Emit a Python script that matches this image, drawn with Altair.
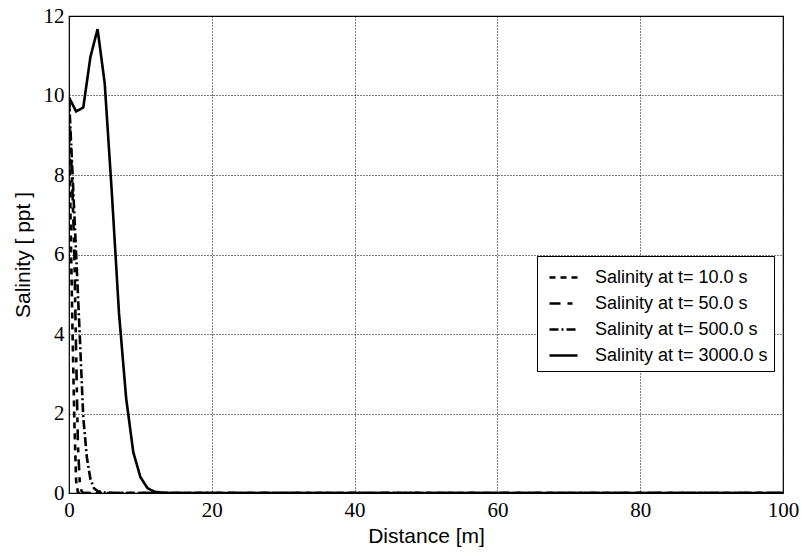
import altair as alt
import pandas as pd

series_names = [
    "Salinity at t= 10.0 s",
    "Salinity at t= 50.0 s",
    "Salinity at t= 500.0 s",
    "Salinity at t= 3000.0 s",
]

x_t10 = [0, 0.25, 0.5, 0.75, 1.0, 1.25, 1.5, 100]
y_t10 = [9.8, 6.5, 4.0, 1.8, 0.3, 0.02, 0.0, 0.0]

x_t50 = [0, 0.5, 0.75, 1.0, 1.25, 1.5, 1.75, 2.0, 100]
y_t50 = [9.9, 7.5, 6.0, 3.5, 1.2, 0.3, 0.05, 0.0, 0.0]

x_t500 = [0, 0.5, 1.0, 1.5, 2.0, 2.5, 3.0, 3.5, 4.0, 5.0, 6.0, 100]
y_t500 = [9.95, 8.0, 6.0, 4.0, 1.9, 0.9, 0.35, 0.12, 0.05, 0.01, 0.0, 0.0]

x_t3000 = [0, 1, 2, 3, 4, 5, 6, 7, 8, 9, 10, 11, 12, 13, 14, 100]
y_t3000 = [9.95, 9.6, 9.7, 10.97, 11.67, 10.31, 7.55, 4.53, 2.39, 1.03, 0.40, 0.12, 0.03, 0.01, 0.0, 0.0]

dash_patterns = [[6, 5], [11, 7, 5, 7], [9, 3, 2, 3], [1, 0]]

rows = []
for name, xs, ys in zip(series_names,
                        [x_t10, x_t50, x_t500, x_t3000],
                        [y_t10, y_t50, y_t500, y_t3000]):
    for i, (xv, yv) in enumerate(zip(xs, ys)):
        rows.append({"series": name, "order": i, "distance": xv, "salinity": yv})
df = pd.DataFrame(rows)

serif = "Liberation Serif"
sans = "Liberation Sans"

chart = alt.Chart(df).mark_line(strokeWidth=2.6, color="black", clip=True).encode(
    x=alt.X("distance:Q",
            scale=alt.Scale(domain=[0, 100], nice=False, zero=False),
            axis=alt.Axis(title="Distance [m]", values=[0, 20, 40, 60, 80, 100],
                          format="d", labelPadding=6, titlePadding=5,
                          labelFlush=False)),
    y=alt.Y("salinity:Q",
            scale=alt.Scale(domain=[0, 12], nice=False),
            axis=alt.Axis(title="Salinity [ ppt ]", values=[0, 2, 4, 6, 8, 10, 12],
                          format="d", labelPadding=5, titlePadding=10,
                          labelFlush=False)),
    strokeDash=alt.StrokeDash("series:N",
                              scale=alt.Scale(domain=series_names, range=dash_patterns),
                              legend=alt.Legend(title=None, orient="none",
                                                legendX=468, legendY=240,
                                                symbolType="stroke", symbolSize=784,
                                                symbolStrokeWidth=2.6,
                                                symbolStrokeColor="black",
                                                symbolOffset=5,
                                                labelFont=sans, labelFontSize=18,
                                                labelColor="black", labelOffset=16,
                                                labelLimit=0,
                                                strokeColor="black", padding=6,
                                                rowPadding=1, fillColor="white")),
    order="order:Q",
).properties(
    width=714, height=477,
    autosize=alt.AutoSizeParams(type="none"),
    padding={"left": 69, "top": 16, "right": 19, "bottom": 61},
).configure_view(
    stroke="black", strokeWidth=1.2
).configure_axis(
    grid=True, gridColor="black", gridDash=[1, 2], gridWidth=1, gridOpacity=1,
    ticks=False, domain=False,
    labelFont=serif, labelFontSize=21, labelColor="black",
    titleFont=sans, titleFontSize=21, titleFontWeight="normal", titleColor="black",
)

chart.save("out.html", embed_options={"renderer": "svg", "actions": False})
